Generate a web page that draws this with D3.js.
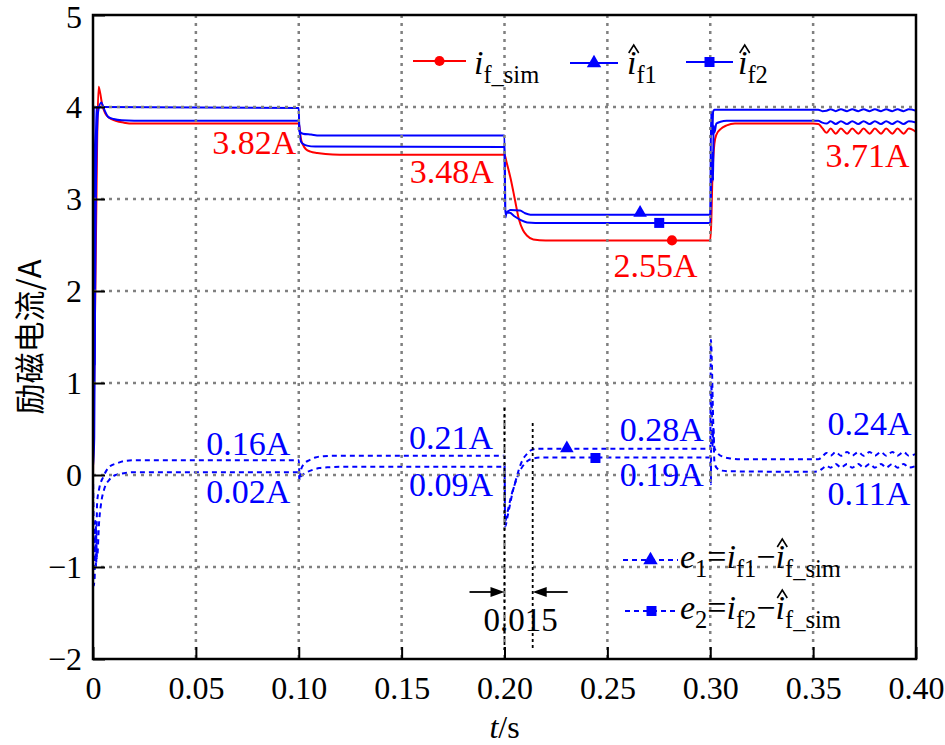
<!DOCTYPE html>
<html><head><meta charset="utf-8">
<script src="https://cdn.jsdelivr.net/npm/d3@7/dist/d3.min.js"></script>
<style>
html,body{margin:0;padding:0;background:#fff;}
svg{display:block;}
text{font-family:"Liberation Serif","Times New Roman","DejaVu Serif",serif;}
</style>
</head><body>
<svg id="chart" width="945" height="745"></svg>
<script>
// ---------------- DATA ----------------
const xTicks = [0, 0.05, 0.10, 0.15, 0.20, 0.25, 0.30, 0.35, 0.40];
const xTickLabels = ["0", "0.05", "0.10", "0.15", "0.20", "0.25", "0.30", "0.35", "0.40"];
const yTicks = [-2, -1, 0, 1, 2, 3, 4, 5];
const yTickLabels = ["\u22122", "\u22121", "0", "1", "2", "3", "4", "5"];

// i_f_sim (red)
const ifSim = [
 [0,0],[0.0006,1.1],[0.001,1.8],[0.0015,2.7],[0.002,3.6],[0.0027,4.22],[0.0035,4.15],[0.0045,4.02],[0.006,3.93],[0.008,3.88],[0.011,3.85],[0.015,3.83],[0.02,3.82],
 [0.1,3.82],[0.1005,3.75],[0.101,3.66],[0.102,3.59],[0.1035,3.54],[0.1057,3.515],[0.109,3.5],[0.113,3.488],[0.12,3.48],
 [0.2,3.48],[0.201,3.40],[0.203,3.22],[0.205,3.0],[0.207,2.78],[0.209,2.66],[0.211,2.6],[0.214,2.56],[0.22,2.55],
 [0.3,2.55],[0.3005,2.75],[0.301,3.2],[0.302,3.6],[0.303,3.7],[0.305,3.76],[0.308,3.8],[0.312,3.82],
 [0.35,3.82],[0.3525,3.815],[0.3545,3.77],[0.3565,3.72],[0.3585,3.765],[0.361,3.71],[0.3635,3.765],[0.3665,3.71],[0.369,3.765],
 [0.372,3.71],[0.3745,3.765],[0.3775,3.71],[0.38,3.765],[0.383,3.71],[0.3855,3.765],[0.3885,3.71],[0.391,3.765],[0.394,3.71],[0.3965,3.765],[0.4,3.73]
];
// i_f1 hat (blue, triangle)
const ifHat1 = [
 [0,0],[0.0004,4.0],[0.0008,1.2],[0.0012,3.2],[0.0016,4.0],[0.003,4.0],[0.1,3.99],
 [0.1003,3.74],[0.102,3.71],[0.106,3.70],[0.11,3.69],[0.2,3.69],
 [0.2003,2.85],[0.203,2.88],[0.2075,2.875],[0.21,2.845],[0.2126,2.83],[0.3,2.83],
 [0.3004,3.95],[0.301,3.7],[0.3014,3.95],[0.302,3.97],[0.35,3.97],
 [0.3525,3.97],[0.3545,3.955],[0.3565,3.96],[0.3585,3.975],[0.361,3.955],[0.3635,3.975],[0.3665,3.955],[0.369,3.975],
 [0.372,3.955],[0.3745,3.975],[0.3775,3.955],[0.38,3.975],[0.383,3.955],[0.3855,3.975],[0.3885,3.955],[0.391,3.975],[0.394,3.955],[0.3965,3.975],[0.4,3.96]
];
// i_f2 hat (blue, square)
const ifHat2 = [
 [0,0.1],[0.0006,0.4],[0.0012,2.7],[0.0018,3.6],[0.0025,3.95],[0.004,4.05],[0.0055,3.97],[0.0075,3.89],[0.01,3.87],[0.014,3.855],[0.02,3.85],[0.1,3.85],
 [0.1005,3.72],[0.101,3.63],[0.102,3.6],[0.104,3.58],[0.108,3.57],[0.2,3.565],
 [0.2005,2.8],[0.201,2.85],[0.2025,2.85],[0.205,2.81],[0.208,2.77],[0.211,2.745],[0.215,2.74],[0.3,2.74],
 [0.3005,3.2],[0.301,3.5],[0.3014,3.2],[0.3016,3.8],[0.302,3.72],[0.303,3.82],[0.305,3.84],[0.308,3.85],[0.35,3.85],
 [0.3525,3.85],[0.3545,3.83],[0.3565,3.82],[0.3585,3.845],[0.361,3.815],[0.3635,3.845],[0.3665,3.815],[0.369,3.845],
 [0.372,3.815],[0.3745,3.845],[0.3775,3.815],[0.38,3.845],[0.383,3.815],[0.3855,3.845],[0.3885,3.815],[0.391,3.845],[0.394,3.815],[0.3965,3.845],[0.4,3.83]
];
// e1 (blue dotted, triangle)
const err1 = [
 [0,0],[0.0005,-1.2],[0.001,-0.6],[0.0015,-1.0],[0.002,-0.3],[0.003,-0.15],[0.005,-0.02],[0.008,0.09],[0.012,0.13],[0.016,0.155],[0.02,0.16],[0.1,0.16],
 [0.1004,-0.03],[0.101,0.05],[0.1025,0.12],[0.105,0.16],[0.108,0.19],[0.112,0.205],[0.12,0.21],[0.2,0.21],
 [0.2003,-0.56],[0.2015,-0.45],[0.2025,-0.34],[0.204,-0.18],[0.2056,-0.05],[0.207,0.06],[0.2087,0.16],[0.211,0.23],[0.213,0.27],[0.216,0.285],[0.3,0.285],
 [0.3003,1.47],[0.3008,1.2],[0.3012,0.8],[0.3016,0.45],[0.302,0.3],[0.3035,0.24],[0.306,0.2],[0.31,0.18],[0.315,0.17],[0.35,0.17],
 [0.3525,0.17],[0.3545,0.2],[0.3565,0.24],[0.3585,0.21],[0.361,0.25],[0.3635,0.21],[0.3665,0.25],[0.369,0.21],
 [0.372,0.25],[0.3745,0.21],[0.3775,0.25],[0.38,0.21],[0.383,0.25],[0.3855,0.21],[0.3885,0.25],[0.391,0.21],[0.394,0.25],[0.3965,0.21],[0.4,0.23]
];
// e2 (blue dotted, square)
const err2 = [
 [0,0],[0.0007,-1.15],[0.0012,-0.5],[0.002,-0.9],[0.003,-0.5],[0.004,-0.3],[0.0055,-0.15],[0.008,-0.05],[0.011,0.0],[0.015,0.02],[0.02,0.03],[0.1,0.03],
 [0.1004,-0.06],[0.101,-0.02],[0.103,0.02],[0.106,0.05],[0.11,0.075],[0.115,0.085],[0.12,0.09],[0.2,0.09],
 [0.2003,-0.5],[0.2015,-0.4],[0.203,-0.25],[0.205,-0.1],[0.207,0.02],[0.209,0.1],[0.211,0.15],[0.214,0.18],[0.218,0.19],[0.3,0.19],
 [0.3003,-0.1],[0.3006,1.0],[0.301,0.3],[0.3015,0.5],[0.302,0.15],[0.303,0.08],[0.305,0.05],[0.31,0.04],[0.35,0.035],
 [0.3525,0.04],[0.3545,0.07],[0.3565,0.1],[0.3585,0.08],[0.361,0.12],[0.3635,0.08],[0.3665,0.12],[0.369,0.08],
 [0.372,0.12],[0.3745,0.08],[0.3775,0.12],[0.38,0.08],[0.383,0.12],[0.3855,0.08],[0.3885,0.12],[0.391,0.08],[0.394,0.12],[0.3965,0.08],[0.4,0.1]
];
// markers on curves [t, value]
const markSim = [[0.2814, 2.55]];
const markHat1 = [[0.2659, 2.85]];
const markHat2 = [[0.2752, 2.74]];
const markErr1 = [[0.2303, 0.29]];
const markErr2 = [[0.2442, 0.185]];
// value annotations [text, t, value]
const redLabels = [["3.82A",0.058,3.49],["3.48A",0.154,3.17],["2.55A",0.253,2.15],["3.71A",0.356,3.35]];
const blueLabels = [["0.16A",0.055,0.22],["0.02A",0.055,-0.30],["0.21A",0.1536,0.28],["0.09A",0.1536,-0.23],
                    ["0.28A",0.256,0.37],["0.19A",0.256,-0.12],["0.24A",0.357,0.435],["0.11A",0.357,-0.33]];
// 0.015 s response-time annotation
const respTimes = [0.2, 0.2137];
const respLabel = "0.015";

// ---------------- LAYOUT ----------------
const FONT = '"Liberation Serif","Times New Roman","DejaVu Serif",serif';
const RED = "#ff0000", BLUE = "#0000ff";
const M = {left: 93, right: 916, top: 15, bottom: 659};
const svg = d3.select("#chart");
const x = d3.scaleLinear().domain([0, 0.4]).range([M.left, M.right]);
const y = d3.scaleLinear().domain([-2, 5]).range([M.bottom, M.top]);

svg.append("defs").append("clipPath").attr("id","clip")
  .append("rect").attr("x",M.left).attr("y",M.top).attr("width",M.right-M.left).attr("height",M.bottom-M.top);

const line = d3.line().x(d => x(d[0])).y(d => y(d[1])).curve(d3.curveMonotoneX);
const plot = svg.append("g").attr("clip-path","url(#clip)");

function drawSeries(data, color, dash){
  plot.append("path").datum(data).attr("d", line)
    .attr("fill","none").attr("stroke",color).attr("stroke-width",2)
    .attr("stroke-dasharray", dash || null).attr("stroke-linejoin","round");
}
drawSeries(ifSim, RED);
drawSeries(ifHat1, BLUE);
drawSeries(ifHat2, BLUE);
drawSeries(err1, BLUE, "5,4");
drawSeries(err2, BLUE, "5,4");

const symTri = d3.symbol().type(d3.symbolTriangle).size(80);
const symSq = d3.symbol().type(d3.symbolSquare).size(100);
const symCir = d3.symbol().type(d3.symbolCircle).size(80);
function drawMarks(data, sym, color){
  plot.selectAll(null).data(data).enter().append("path")
    .attr("d", sym).attr("fill", color)
    .attr("transform", d => `translate(${x(d[0])},${y(d[1])})`);
}
drawMarks(markSim, symCir, RED);
drawMarks(markHat1, symTri, BLUE);
drawMarks(markHat2, symSq, BLUE);
drawMarks(markErr1, symTri, BLUE);
drawMarks(markErr2, symSq, BLUE);

// grid (drawn over the data, dotted grey)
const grid = svg.append("g");
grid.selectAll(null).data(xTicks.slice(1, -1)).enter().append("line")
  .attr("x1", d => x(d)).attr("x2", d => x(d)).attr("y1", M.top).attr("y2", M.bottom)
  .attr("stroke","#808080").attr("stroke-width",2.5).attr("stroke-dasharray","3,5");
grid.selectAll(null).data(yTicks.slice(1, -1)).enter().append("line")
  .attr("y1", d => y(d)).attr("y2", d => y(d)).attr("x1", M.left).attr("x2", M.right)
  .attr("stroke","#808080").attr("stroke-width",2.5).attr("stroke-dasharray","3,5");

// axes
const xAxis = d3.axisBottom(x).tickValues(xTicks).tickFormat((d,i) => xTickLabels[i])
  .tickSizeInner(-12).tickSizeOuter(0).tickPadding(17);
const yAxis = d3.axisLeft(y).tickValues(yTicks).tickFormat((d,i) => yTickLabels[i])
  .tickSizeInner(-12).tickSizeOuter(0).tickPadding(11);
const gx = svg.append("g").attr("transform",`translate(0,${M.bottom})`).call(xAxis);
const gy = svg.append("g").attr("transform",`translate(${M.left},0)`).call(yAxis);
[gx, gy].forEach(g => {
  g.attr("font-family", FONT);
  g.select(".domain").remove();
  g.selectAll(".tick line").attr("stroke","#000").attr("stroke-width",2);
  g.selectAll(".tick text").attr("fill","#000").attr("font-size",32).attr("font-family",FONT);
});
gy.selectAll(".tick text").filter(d => d === 5).attr("dy","0.38em");
// frame
svg.append("rect").attr("x",M.left).attr("y",M.top).attr("width",M.right-M.left).attr("height",M.bottom-M.top)
  .attr("fill","none").attr("stroke","#000").attr("stroke-width",2.5);

// axis titles
svg.append("text").attr("transform",`translate(41,${(M.top+M.bottom)/2}) rotate(-90)`)
  .attr("text-anchor","middle").attr("font-size",31)
  .style("font-family",'"Noto Sans CJK SC","Liberation Serif",serif')
  .text("励磁电流/A");
const xt = svg.append("text").attr("x",(M.left+M.right)/2).attr("y",738).attr("text-anchor","middle").attr("font-size",32).attr("font-family",FONT);
xt.append("tspan").attr("font-style","italic").text("t");
xt.append("tspan").text("/s");

// value labels
svg.selectAll(null).data(redLabels).enter().append("text")
  .attr("x", d => x(d[1])).attr("y", d => y(d[2])).attr("font-size",34).attr("font-family",FONT).attr("fill",RED).text(d => d[0]);
svg.selectAll(null).data(blueLabels).enter().append("text")
  .attr("x", d => x(d[1])).attr("y", d => y(d[2])).attr("font-size",34).attr("font-family",FONT).attr("fill",BLUE).text(d => d[0]);

// response time annotation
const ann = svg.append("g");
ann.selectAll(null).data(respTimes).enter().append("line")
  .attr("x1", d => x(d)).attr("x2", d => x(d))
  .attr("y1", (d,i) => i === 0 ? 408 : 423).attr("y2", 650)
  .attr("stroke","#000").attr("stroke-width",1.8).attr("stroke-dasharray","3,3");
const ay = 592;
function arrow(xFrom, xTo){
  const dir = Math.sign(xTo - xFrom);
  ann.append("line").attr("x1",xFrom).attr("x2",xTo - dir*10).attr("y1",ay).attr("y2",ay)
    .attr("stroke","#000").attr("stroke-width",1.8);
  ann.append("path").attr("d",`M${xTo},${ay} L${xTo-dir*14},${ay-5} L${xTo-dir*14},${ay+5} Z`).attr("fill","#000");
}
arrow(x(respTimes[0]) - 35, x(respTimes[0]));
arrow(x(respTimes[1]) + 35, x(respTimes[1]));
ann.append("text").attr("x", (x(respTimes[0]) + x(respTimes[1]))/2 + 2).attr("y", 631)
  .attr("text-anchor","middle").attr("font-size",33).attr("font-family",FONT).text(respLabel);

// ---------------- LEGENDS ----------------
function mathText(px, py, parts, size){
  const t = svg.append("text").attr("x",px).attr("y",py).attr("font-size",size).attr("font-family",FONT).attr("fill","#000");
  let shift = 0;
  parts.forEach(p => {
    const sp = t.append("tspan").text(p.t);
    const target = p.sub ? 9 : 0;
    sp.attr("dy", target - shift); shift = target;
    if (p.sub) sp.attr("font-size", size*0.72);
    if (p.it) sp.attr("font-style","italic");
  });
  return t;
}
// circumflex accent drawn as a small chevron above the chosen character
function hat(textSel, idx, baseY){
  const e = textSel.node().getExtentOfChar(idx);
  const cx = e.x + e.width/2 + 2;
  svg.append("path").attr("d",`M${cx-5},${baseY-21} L${cx},${baseY-29} L${cx+5},${baseY-21}`)
    .attr("fill","none").attr("stroke","#000").attr("stroke-width",1.6);
}
function legendLine(x1, x2, yy, color, dash, sym){
  svg.append("line").attr("x1",x1).attr("x2",x2).attr("y1",yy).attr("y2",yy)
    .attr("stroke",color).attr("stroke-width",2).attr("stroke-dasharray",dash||null);
  svg.append("path").attr("d",sym).attr("fill",color).attr("transform",`translate(${(x1+x2)/2},${yy})`);
}
// top legend
legendLine(413, 466, 61, RED, null, symCir);
mathText(474, 74, [{t:"i",it:true},{t:"f_sim",sub:true}], 34);
legendLine(570, 618, 63, BLUE, null, d3.symbol().type(d3.symbolTriangle).size(90));
const l2 = mathText(627, 74, [{t:"i",it:true},{t:"f1",sub:true}], 34); hat(l2, 0, 74);
legendLine(686, 733, 62, BLUE, null, symSq);
const l3 = mathText(738, 74, [{t:"i",it:true},{t:"f2",sub:true}], 34); hat(l3, 0, 74);
// bottom legend
legendLine(623, 678, 560, BLUE, "5,4", d3.symbol().type(d3.symbolTriangle).size(90));
const b1 = mathText(680, 568, [{t:"e",it:true},{t:"1",sub:true},{t:"="},{t:"i",it:true},{t:"f1",sub:true},{t:"\u2212"},{t:"i",it:true},{t:"f_sim",sub:true}], 34);
hat(b1, 7, 568);
legendLine(625, 678, 611, BLUE, "5,4", symSq);
const b2 = mathText(680, 619, [{t:"e",it:true},{t:"2",sub:true},{t:"="},{t:"i",it:true},{t:"f2",sub:true},{t:"\u2212"},{t:"i",it:true},{t:"f_sim",sub:true}], 34);
hat(b2, 7, 619);
</script>
</body></html>
